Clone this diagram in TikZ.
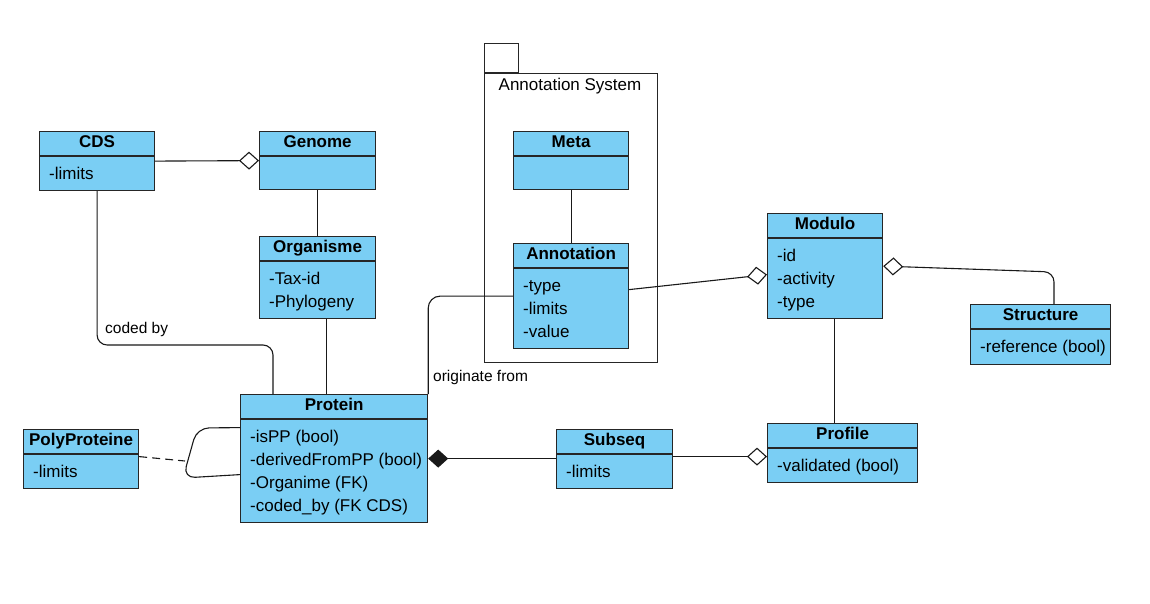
\documentclass[tikz,border=0pt]{standalone}
\usepackage{fontspec}
\setmainfont{Liberation Sans}
\usetikzlibrary{arrows.meta}
\definecolor{classfill}{RGB}{122,206,244}

\tikzset{
  classbox/.style={draw=black!85, fill=classfill, line width=1.2pt, inner sep=0pt},
  classtitle/.style={anchor=base, inner sep=0pt, font=\fontsize{17}{20}\selectfont\bfseries},
  classattr/.style={anchor=base west, inner sep=0pt, font=\fontsize{17}{20}\selectfont},
  pkgframe/.style={draw=black!85, line width=1pt, inner sep=0pt},
  conn/.style={line width=1.1pt, draw=black!90},
  conlabel/.style={anchor=base west, inner sep=0pt, font=\fontsize{15.5}{18}\selectfont},
  aggr end/.style={-{Diamond[open,length=20pt,width=18pt,line width=1.1pt]}},
  aggr start/.style={{Diamond[open,length=20pt,width=18pt,line width=1.1pt]}-},
  comp start/.style={{Diamond[length=20pt,width=18pt]}-}
}

% name, x, y (top left), width, height, title, attributes
\newcommand{\umlclass}[7]{%
  \node[classbox, minimum width=#4pt, minimum height=#5pt, anchor=north west] (#1) at (#2,#3) {};
  \draw[line width=1.2pt, black!85] ([yshift=-25pt]#1.north west) -- ([yshift=-25pt]#1.north east);
  \node[classtitle] (#1-title) at ([yshift=-16.5pt]#1.north) {#6};
  \foreach \attr [count=\i] in {#7} {
    \node[classattr] (#1-attr\i) at ([xshift=10pt,yshift=-25pt-23pt*\i]#1.north west) {\attr};
  }
}

\begin{document}
\begin{tikzpicture}[x=1pt, y=-1pt]
  \useasboundingbox (0,0) rectangle (1150,604);

  % package
  \node[pkgframe, minimum width=173pt, minimum height=289pt, anchor=north west] (pkg) at (484,73) {};
  \node[pkgframe, minimum width=34pt, minimum height=29pt, anchor=south west] (pkgtab) at (pkg.north west) {};
  \node[anchor=base, inner sep=0pt, font=\fontsize{17}{20}\selectfont] (pkg-title) at (570,91) {Annotation System};

  % classes
  \umlclass{cds}{39}{131}{115}{59}{CDS}{-limits}
  \umlclass{genome}{259}{131}{116}{58}{Genome}{}
  \umlclass{organisme}{259}{236}{116}{82}{Organisme}{-Tax-id,-Phylogeny}
  \umlclass{protein}{240}{394}{187}{128}{Protein}{-isPP (bool),-derivedFromPP (bool),-Organime (FK),-coded\_by (FK CDS)}
  \umlclass{poly}{23}{429}{115}{59}{PolyProteine}{-limits}
  \umlclass{meta}{513}{131}{115}{58}{Meta}{}
  \umlclass{annotation}{513}{243}{115}{105}{Annotation}{-type,-limits,-value}
  \umlclass{modulo}{767}{213}{115}{105}{Modulo}{-id,-activity,-type}
  \umlclass{structure}{970}{304}{140}{60}{Structure}{-reference (bool)}
  \umlclass{subseq}{556}{429}{116}{59}{Subseq}{-limits}
  \umlclass{profile}{767}{423}{150}{59}{Profile}{-validated (bool)}

  % corner points
  \coordinate (codedby) at (273,345);
  \coordinate (strcorner) at (1054,272);
  \coordinate (loopL) at (185,461);

  % connectors
  \draw[conn, aggr end] (cds.east) -- (genome.west);
  \draw[conn] (genome.south) -- (organisme.north);
  \draw[conn] ([xshift=9pt]organisme.south) -- ([xshift=9pt]organisme.south |- protein.north);
  \draw[conn, rounded corners=10pt] (cds.south) |- (codedby) -- (codedby |- protein.north);
  \node[conlabel] (codedby-label) at (105,333) {coded by};
  \draw[conn] (meta.south) -- (annotation.north);
  \draw[conn, rounded corners=12pt] (annotation.west) -| (protein.north east);
  \node[conlabel] (origin-label) at (433,381) {originate from};
  \draw[conn, aggr end] ([yshift=6.5pt]annotation.east) -- ([yshift=-8.5pt]modulo.west);
  \draw[conn, aggr start, rounded corners=10pt] (modulo.east) -- (strcorner) -- (strcorner |- structure.north);
  \draw[conn] ([xshift=9.5pt]modulo.south) -- ([xshift=9.5pt]modulo.south |- profile.north);
  \draw[conn, aggr end] ([yshift=2.5pt]subseq.east) -- ([yshift=2.5pt]subseq.east -| profile.west);
  \draw[conn, comp start] (protein.east) -- (protein.east -| subseq.west);
  \draw[conn, rounded corners=12pt] ([yshift=31pt]protein.west) -- (197,428) -- (183,478) -- ([yshift=-16pt]protein.west);
  \draw[conn, dash pattern=on 8pt off 5pt] ([yshift=2.5pt]poly.east) -- (loopL);
\end{tikzpicture}
\end{document}
